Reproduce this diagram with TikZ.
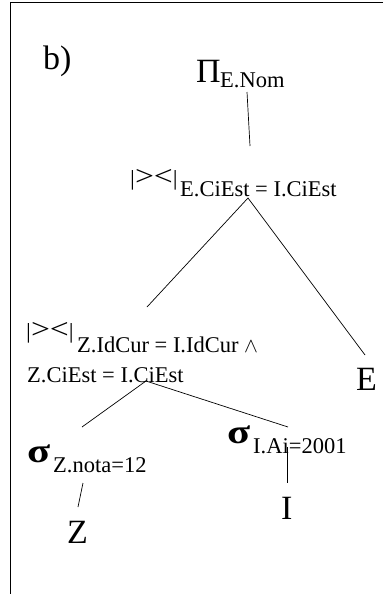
\documentclass[tikz,border=0pt]{standalone}
\usepackage{fontspec}
\setmainfont{Liberation Serif}
\newcommand{\myjoin}{\scalebox{1}[0.9]{|\scalebox{1.4}[1.3]{>}\scalebox{1.4}[1.3]{<}|}}
\newcommand{\mysigma}{\scalebox{1.25}[1]{\bfseries σ}}
\tikzset{
  big/.style={font=\fontsize{34}{34}\selectfont, inner sep=0pt, anchor=base west},
  joinsym/.style={font=\fontsize{24}{24}\selectfont, inner sep=0pt, anchor=base west},
  small/.style={font=\fontsize{22.5}{22.5}\selectfont, inner sep=0pt, anchor=base west},
  conn/.style={line width=0.7pt, black},
  frame/.style={line width=1pt, black}
}
\begin{document}
\begin{tikzpicture}[x=1pt,y=-1pt]
\useasboundingbox (0,0) rectangle (383,594);
% frame
\coordinate (f0) at (10,3);
\coordinate (f1) at (383,3);
\coordinate (f2) at (10,594);
\draw[frame] (f1) -- (f0) -- (f2);
% labels
\node[big] (b) at (43,70) {b)};
\node[big] (pi) at (196,82) {Π};
\node[small] (pisub) at (220,88) {E.Nom};
\node[joinsym] (j1) at (130,185) {\myjoin};
\node[small] (j1sub) at (180,196) {E.CiEst = I.CiEst};
\node[joinsym] (j2) at (26,338) {\myjoin};
\node[small] (j2sub) at (77,352) {Z.IdCur = I.IdCur $\wedge$};
\node[small] (j2sub2) at (27,382) {Z.CiEst = I.CiEst};
\node[big] (E) at (356,390) {E};
\node[big] (s1) at (27,462) {\mysigma};
\node[small] (s1sub) at (53,472) {Z.nota=12};
\node[big] (Z) at (67,543) {Z};
\node[big] (s2) at (227,443) {\mysigma};
\node[small] (s2sub) at (253,453) {I.Ai=2001};
\node[big] (I) at (281,519) {I};
% connector ends
\coordinate (a1) at (247,92);
\coordinate (a2) at (250,146);
\coordinate (j1apex) at (248,198);
\coordinate (j1l) at (147,307);
\coordinate (j1r) at (365,355);
\coordinate (j2apex) at (146,381);
\coordinate (j2l) at (82,427);
\coordinate (j2r) at (288,427);
\coordinate (s1a) at (83,483);
\coordinate (s1b) at (78,507);
\coordinate (s2a) at (287,447);
\coordinate (s2b) at (287,483);
\draw[conn] (a1) -- (a2);
\draw[conn] (j1l) -- (j1apex) -- (j1r);
\draw[conn] (j2l) -- (j2apex) -- (j2r);
\draw[conn] (s1a) -- (s1b);
\draw[conn] (s2a) -- (s2b);
\end{tikzpicture}
\end{document}
